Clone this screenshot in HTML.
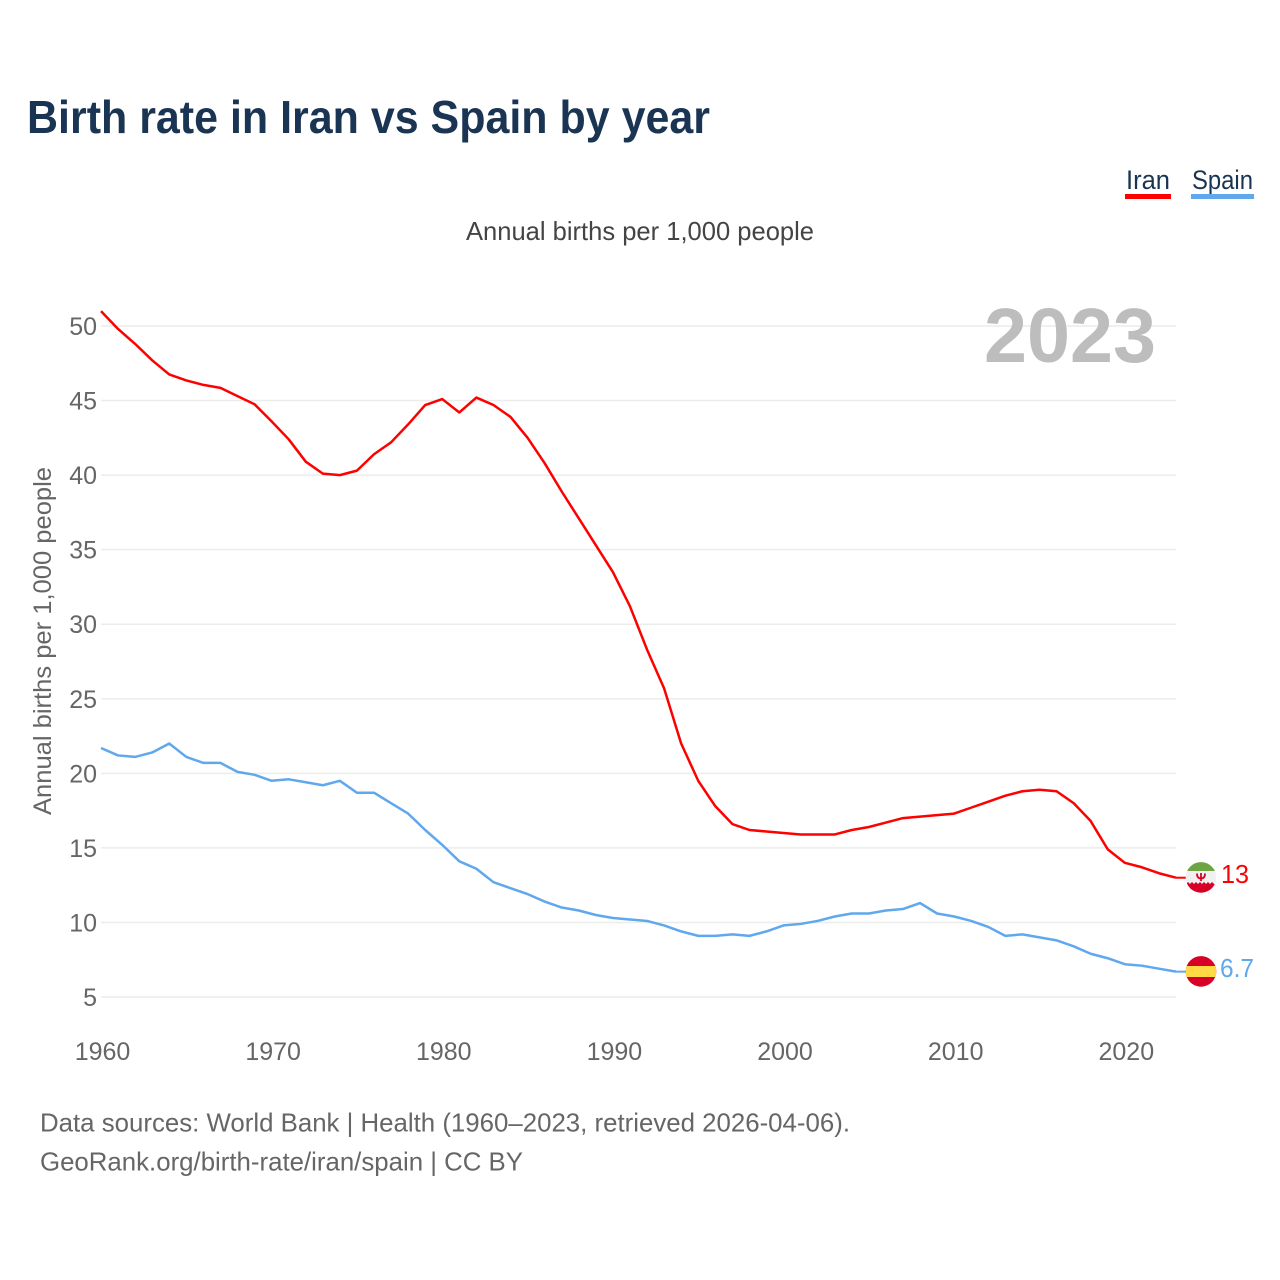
<!DOCTYPE html>
<html lang="en">
<head>
<meta charset="utf-8">
<title>Birth rate in Iran vs Spain by year</title>
<style>
html,body{margin:0;padding:0;background:#fff;}
svg{display:block;}
text{font-family:"Liberation Sans",sans-serif;}
</style>
</head>
<body>
<svg id="chart" xmlns="http://www.w3.org/2000/svg" width="1280" height="1280" viewBox="0 0 1280 1280">
  <defs>
    <clipPath id="clip-iran"><circle cx="1201" cy="877.4" r="15.3"/></clipPath>
    <clipPath id="clip-spain"><circle cx="1201" cy="971.4" r="15.3"/></clipPath>
  </defs>
  <rect width="1280" height="1280" fill="#fff"/>
  <text x="27" y="133" font-size="46" font-weight="700" fill="#1a3553" textLength="683" lengthAdjust="spacingAndGlyphs">Birth rate in Iran vs Spain by year</text>

  <g>
    <g>
      <text x="1126" y="189" font-size="27" fill="#1a3553" textLength="44" lengthAdjust="spacingAndGlyphs">Iran</text>
      <rect x="1125" y="194" width="46" height="5" fill="#ff0000"/>
    </g>
    <g>
      <text x="1192" y="189" font-size="27" fill="#1a3553" textLength="61" lengthAdjust="spacingAndGlyphs">Spain</text>
      <rect x="1191" y="194" width="63" height="5" fill="#5fa8ee"/>
    </g>
  </g>

  <text x="466" y="240" font-size="26" fill="#444" textLength="348" lengthAdjust="spacingAndGlyphs">Annual births per 1,000 people</text>
  <text transform="translate(51,815) rotate(-90)" x="0" y="0" font-size="25" fill="#666" textLength="348" lengthAdjust="spacingAndGlyphs">Annual births per 1,000 people</text>

  <g id="grid"></g>
  <g id="y-ticks"></g>
  <g id="x-ticks"></g>

  <text x="984" y="362" font-size="77" font-weight="700" fill="#bdbdbd" textLength="172" lengthAdjust="spacingAndGlyphs">2023</text>

  <polyline id="line-iran" fill="none" stroke="#ff0000" stroke-width="2.5" stroke-linejoin="round"/>
  <polyline id="line-spain" fill="none" stroke="#5fa8ee" stroke-width="2.5" stroke-linejoin="round"/>
  <line id="connector-iran" stroke="#ff0000" stroke-width="2"/>
  <line id="connector-spain" stroke="#5fa8ee" stroke-width="2"/>

  <g clip-path="url(#clip-iran)">
    <rect x="1185" y="861" width="32" height="33" fill="#f0f0f0"/>
    <rect x="1185" y="861" width="32" height="10" fill="#6da544"/>
    <path d="M1185 884h32v10h-32z" fill="#d80027"/>
    <path d="M1186 884l2-2 2 2 2-2 2 2 2-2 2 2 2-2 2 2 2-2 2 2 2-2 2 2 2-2 2 2z" fill="#d80027"/>
    <path d="M1197 873.500c0 4 2 5 4 5s4-1 4-5M1201 873v8" fill="none" stroke="#d80027" stroke-width="1.800"/>
  </g>
  <g clip-path="url(#clip-spain)">
    <rect x="1185" y="955" width="32" height="33" fill="#d80027"/>
    <rect x="1185" y="966" width="32" height="11" fill="#ffda44"/>
  </g>

  <text id="value-iran" x="1221" y="883" font-size="26" fill="#ff0000" textLength="28" lengthAdjust="spacingAndGlyphs"></text>
  <text id="value-spain" x="1220" y="977" font-size="26" fill="#5fa8ee" textLength="34" lengthAdjust="spacingAndGlyphs"></text>

  <text x="40" y="1131.500" font-size="26" fill="#666" textLength="810" lengthAdjust="spacingAndGlyphs">Data sources: World Bank | Health (1960–2023, retrieved 2026-04-06).</text>
  <text x="40" y="1170.500" font-size="26" fill="#666" textLength="483" lengthAdjust="spacingAndGlyphs">GeoRank.org/birth-rate/iran/spain | CC BY</text>
</svg>

<script>
var startYear = 1960;
var iranValues = [51.0,49.8,48.8,47.7,46.75,46.35,46.05,45.85,45.3,44.75,43.6,42.4,40.9,40.1,40.0,40.3,41.4,42.2,43.4,44.7,45.1,44.2,45.2,44.7,43.9,42.5,40.8,38.9,37.1,35.3,33.5,31.2,28.3,25.7,22.0,19.5,17.8,16.6,16.2,16.1,16.0,15.9,15.9,15.9,16.2,16.4,16.7,17.0,17.1,17.2,17.3,17.7,18.1,18.5,18.8,18.9,18.8,18.0,16.8,14.9,14.0,13.7,13.3,13.0];
var spainValues = [21.7,21.2,21.1,21.4,22.0,21.1,20.7,20.7,20.1,19.9,19.5,19.6,19.4,19.2,19.5,18.7,18.7,18.0,17.3,16.2,15.2,14.1,13.6,12.7,12.3,11.9,11.4,11.0,10.8,10.5,10.3,10.2,10.1,9.8,9.4,9.1,9.1,9.2,9.1,9.4,9.8,9.9,10.1,10.4,10.6,10.6,10.8,10.9,11.3,10.6,10.4,10.1,9.7,9.1,9.2,9.0,8.8,8.4,7.9,7.6,7.2,7.1,6.9,6.7];
var yTickValues = [5,10,15,20,25,30,35,40,45,50];
var xTickYears = [1960,1970,1980,1990,2000,2010,2020];

var NS = 'http://www.w3.org/2000/svg';
function xScale(year){ return 101 + (year - 1960) * (1075 / 63); }
function yScale(v){ return 997 - (v - 5) * (671 / 45); }
function pointsFor(values){
  return values.map(function(v, i){
    return xScale(startYear + i).toFixed(2) + ',' + yScale(v).toFixed(2);
  }).join(' ');
}

var gridGroup = document.getElementById('grid');
var yGroup = document.getElementById('y-ticks');
var xGroup = document.getElementById('x-ticks');

yTickValues.forEach(function(v){
  var line = document.createElementNS(NS, 'line');
  
  
  line.setAttribute('x1', 101);
  line.setAttribute('x2', 1176);
  line.setAttribute('y1', yScale(v));
  line.setAttribute('y2', yScale(v));
  line.setAttribute('stroke', '#ececec');
  line.setAttribute('stroke-width', '1.5');
  gridGroup.appendChild(line);

  var label = document.createElementNS(NS, 'text');
  
  
  label.setAttribute('x', 97);
  label.setAttribute('y', yScale(v) + 9);
  label.setAttribute('text-anchor', 'end');
  label.setAttribute('font-size', '25');
  label.setAttribute('fill', '#666');
  label.textContent = v;
  yGroup.appendChild(label);
});

xTickYears.forEach(function(year){
  var label = document.createElementNS(NS, 'text');
  
  
  label.setAttribute('x', xScale(year) + 1.5);
  label.setAttribute('y', 1060);
  label.setAttribute('text-anchor', 'middle');
  label.setAttribute('font-size', '25');
  label.setAttribute('fill', '#666');
  label.textContent = year;
  xGroup.appendChild(label);
});

document.getElementById('line-iran').setAttribute('points', pointsFor(iranValues));
document.getElementById('line-spain').setAttribute('points', pointsFor(spainValues));

function placeConnector(id, values){
  var el = document.getElementById(id);
  var y = yScale(values[values.length - 1]);
  el.setAttribute('x1', xScale(startYear + values.length - 1));
  el.setAttribute('x2', 1186);
  el.setAttribute('y1', y);
  el.setAttribute('y2', y);
}
placeConnector('connector-iran', iranValues);
placeConnector('connector-spain', spainValues);

document.getElementById('value-iran').textContent = String(Math.round(iranValues[iranValues.length - 1] * 10) / 10);
document.getElementById('value-spain').textContent = String(Math.round(spainValues[spainValues.length - 1] * 10) / 10);
</script>
</body>
</html>
